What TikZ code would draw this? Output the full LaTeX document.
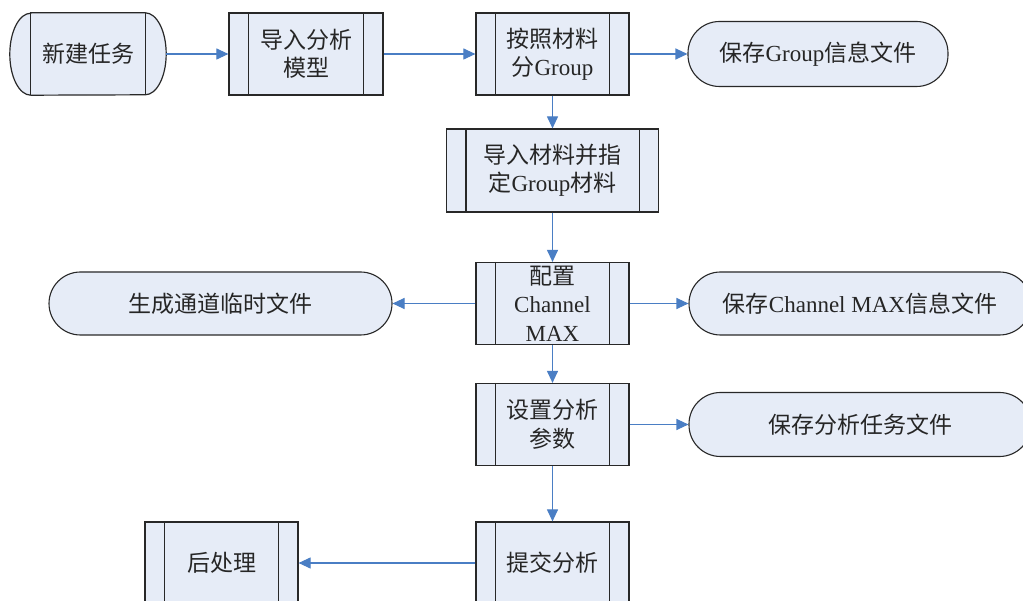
\documentclass[tikz,border=0pt]{standalone}
\usepackage{fontspec}
\setmainfont{Liberation Serif}
\newfontfamily\cjk{Noto Sans CJK SC}
\usetikzlibrary{arrows.meta}
\definecolor{boxfill}{RGB}{230,236,247}
\definecolor{arrowblue}{RGB}{74,126,196}
\definecolor{edgecol}{RGB}{40,40,40}
\newcommand\zh[1]{{\cjk #1}}
\newcommand\procbars[1]{\draw[edgecol, line width=1.2pt] ([xshift=20pt]#1.north west) -- ([xshift=20pt]#1.south west) ([xshift=-20pt]#1.north east) -- ([xshift=-20pt]#1.south east);}
\begin{document}
\begin{tikzpicture}[x=1pt,y=-1pt,
  font=\rmfamily\fontsize{23}{28.5}\selectfont,
  proc/.style={draw=edgecol, fill=boxfill, line width=1.2pt, minimum height=82pt, inner sep=0pt, align=center, text=black!85},
  term/.style={draw=edgecol, fill=boxfill, line width=1.1pt, rounded corners=31.5pt, minimum height=63pt, inner sep=0pt, align=center, text=black!85},
  arr/.style={draw=arrowblue, line width=1.1pt, -{Triangle[length=12pt,width=11pt]}}]
\useasboundingbox (0,0) rectangle (1023,601);
\clip (0,0) rectangle (1023,601);
\fill[white] (0,0) rectangle (1023,601);
% start terminator
\node[minimum width=156pt, minimum height=82pt, inner sep=0pt] (start) at (88,54) {};
\draw[edgecol, fill=boxfill, line width=1.2pt]
  ([xshift=21pt]start.north west) -- ([xshift=-21pt]start.north east)
  arc[start angle=90, end angle=-90, x radius=21pt, y radius=41pt]
  -- ([xshift=21pt]start.south west)
  arc[start angle=270, end angle=90, x radius=21pt, y radius=41pt] -- cycle;
\draw[edgecol, line width=1.2pt] ([xshift=21pt]start.north west) -- ([xshift=21pt]start.south west)
  ([xshift=-21pt]start.north east) -- ([xshift=-21pt]start.south east);
\node[text=black!85] at (start.center) {\zh{新建任务}};
% process boxes
\node[proc, minimum width=154pt] (m1) at (306,54) {\zh{导入分析}\\\zh{模型}};
\node[proc, minimum width=153pt] (m2) at (552.5,54) {\zh{按照材料}\\\zh{分}Group};
\node[proc, minimum width=212pt, minimum height=83pt] (m3) at (552.5,170.5) {\zh{导入材料并指}\\\zh{定}Group\zh{材料}};
\node[proc, minimum width=153pt] (m4) at (552.5,303.5) {\zh{配置}\\{}Channel\\{}MAX};
\node[proc, minimum width=153pt] (m5) at (552.5,424.5) {\zh{设置分析}\\\zh{参数}};
\node[proc, minimum width=153pt] (m6) at (552.5,563) {\zh{提交分析}};
\node[proc, minimum width=153pt] (post) at (221.5,563) {\zh{后处理}};
\foreach \n in {m1,m2,m3,m4,m5,m6,post} {\procbars{\n}}
% terminators
\node[term, minimum width=260pt, minimum height=65pt] (grp) at (818,54) {\zh{保存}Group\zh{信息文件}};
\node[term, minimum width=343pt] (tmp) at (220.5,303.5) {\zh{生成通道临时文件}};
\node[term, minimum width=342pt] (chn) at (860,303.5) {\zh{保存}Channel MAX\zh{信息文件}};
\node[term, minimum width=342pt, minimum height=64pt] (task) at (860,424.5) {\zh{保存分析任务文件}};
% connectors
\draw[arr] (start.east) -- (m1.west);
\draw[arr] (m1.east) -- (m2.west);
\draw[arr] (m2.east) -- (grp.west);
\draw[arr] (m2.south) -- (m3.north);
\draw[arr] (m3.south) -- (m4.north);
\draw[arr] (m4.west) -- (tmp.east);
\draw[arr] (m4.east) -- (chn.west);
\draw[arr] (m4.south) -- (m5.north);
\draw[arr] (m5.east) -- (task.west);
\draw[arr] (m5.south) -- (m6.north);
\draw[arr] (m6.west) -- (post.east);
\end{tikzpicture}
\end{document}
